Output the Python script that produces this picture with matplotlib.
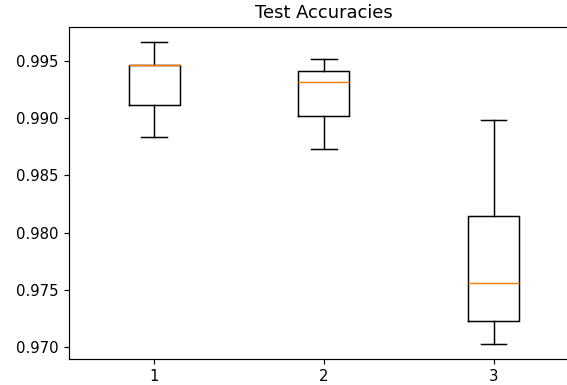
import matplotlib
matplotlib.use("Agg")
import matplotlib.pyplot as plt

# Box statistics per run: lower whisker, Q1, median, Q3, upper whisker
labels = ["1", "2", "3"]
whislo = [0.98839, 0.98734, 0.97026]
q1 = [0.99119, 0.99023, 0.97225]
med = [0.99470, 0.99320, 0.97558]
q3 = [0.99470, 0.99414, 0.98147]
whishi = [0.99666, 0.99519, 0.98985]

stats = [
    dict(label=labels[i], whislo=whislo[i], q1=q1[i], med=med[i],
         q3=q3[i], whishi=whishi[i], fliers=[])
    for i in range(len(labels))
]

DPI = 107
fig = plt.figure(figsize=(567 / DPI, 385 / DPI), dpi=DPI)
ax = fig.add_axes([0.1222, 0.0675, 0.898, 0.8615])
ax.bxp(stats, positions=[1, 2, 3], widths=0.3, showfliers=False)
ax.set_xlim(0.5, 3.5)
ax.set_ylim(0.96892, 0.99797)
ax.set_yticks([0.970, 0.975, 0.980, 0.985, 0.990, 0.995])
ax.set_title("Test Accuracies")

fig.savefig("out.png", dpi=DPI)
